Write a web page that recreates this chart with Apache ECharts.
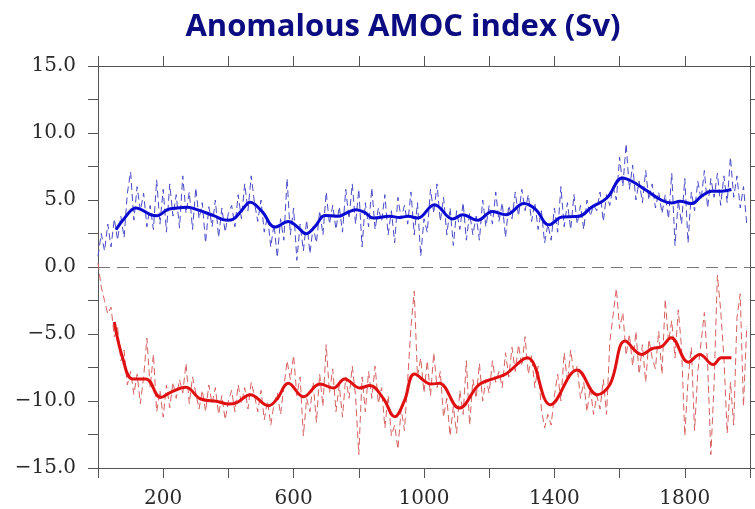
<!DOCTYPE html>
<html><head><meta charset="utf-8">
<script src="https://cdn.jsdelivr.net/npm/echarts@6/dist/echarts.min.js"></script>
<style>html,body{margin:0;padding:0;background:#fff}#c{width:755px;height:509px}</style>
</head><body><div id="c"></div>
<script>
const TITLE = 'Anomalous AMOC index (Sv)';
const X_LABELS = [200, 600, 1000, 1400, 1800];
const Y_LABELS = [-15, -10, -5, 0, 5, 10, 15];
const NOISE_START = 0, NOISE_STEP = 10;

const blueNoisy = [0.8,2.5,1.2,3.2,1.5,3.6,2.0,3.8,2.2,5.5,7.1,3.5,6.0,4.2,5.5,3.0,4.6,2.8,6.5,3.2,
5.8,2.6,6.2,3.8,5.4,2.9,6.8,4.0,5.6,2.8,5.9,3.6,4.8,1.8,4.5,3.0,5.0,2.2,4.4,2.6,
4.0,4.6,3.0,5.4,3.6,6.2,4.2,6.8,4.8,3.4,5.0,2.6,3.8,1.5,3.2,0.7,3.6,2.0,6.6,2.4,
4.4,0.5,3.2,1.2,3.5,1.0,3.0,1.8,4.2,2.4,5.6,3.2,4.6,2.8,4.5,2.6,5.8,3.6,6.2,3.2,
5.8,1.5,4.8,3.0,5.9,2.8,4.4,3.4,5.4,2.4,4.2,1.8,5.2,3.6,4.6,3.2,5.6,2.4,4.8,0.8,
3.6,2.6,5.8,4.0,6.2,3.4,5.2,2.4,4.4,1.6,4.2,2.8,4.8,2.0,4.0,2.4,3.8,2.0,5.0,3.0,
4.6,3.2,5.6,3.4,4.8,2.2,4.6,3.6,5.6,3.8,5.8,4.2,5.4,3.4,4.8,2.8,4.2,1.8,3.2,2.0,
4.4,2.6,6.0,3.0,4.8,2.8,5.4,3.2,4.6,2.8,5.0,3.8,4.6,4.2,5.6,3.4,5.4,4.6,6.0,5.0,
8.2,6.0,9.2,5.8,7.6,5.0,6.4,4.8,7.2,5.0,6.2,4.4,5.6,4.0,5.4,3.6,7.0,1.6,5.0,3.2,
6.6,1.8,5.6,4.2,6.4,5.0,7.2,4.4,6.6,5.2,7.0,4.6,6.8,4.8,8.2,5.2,6.8,4.4,6.0,3.2];

const redNoisy = [0.3,-1.5,-2.5,-3.5,-3.0,-5.2,-4.5,-7.0,-6.2,-8.8,-7.8,-9.5,-8.0,-10.2,-8.2,-5.3,-9.0,-6.5,-10.8,-9.2,
-11.2,-8.8,-10.5,-8.6,-9.8,-8.4,-9.4,-7.2,-10.2,-8.2,-9.4,-10.6,-9.2,-10.8,-8.8,-10.2,-9.0,-11.0,-9.6,-11.4,
-10.0,-9.2,-10.8,-8.8,-10.2,-9.0,-10.6,-8.6,-9.6,-10.8,-9.2,-11.4,-10.0,-11.8,-10.2,-9.4,-11.0,-9.0,-7.0,-8.4,
-6.6,-9.6,-8.2,-12.6,-9.8,-10.8,-8.6,-11.6,-8.0,-10.4,-5.8,-9.4,-7.6,-10.8,-8.8,-11.2,-8.2,-9.8,-7.4,-9.6,
-14.0,-8.2,-10.8,-7.8,-9.8,-7.4,-10.2,-9.0,-12.0,-9.6,-12.6,-11.8,-13.6,-10.6,-12.2,-8.4,-4.5,-1.8,-8.2,-6.8,
-9.4,-7.0,-9.6,-6.4,-9.0,-7.8,-11.2,-9.8,-12.6,-10.4,-12.4,-9.2,-11.0,-7.0,-11.8,-8.4,-9.8,-7.2,-10.0,-8.4,
-9.4,-7.0,-8.6,-7.8,-9.0,-6.4,-8.2,-6.0,-7.8,-5.8,-7.4,-5.2,-8.0,-6.6,-9.0,-7.4,-10.6,-12.0,-11.0,-11.8,
-9.6,-8.0,-10.0,-6.4,-8.6,-6.2,-8.0,-7.4,-9.8,-8.6,-10.8,-9.0,-11.0,-9.6,-10.6,-8.4,-11.0,-5.6,-3.6,-1.6,
-4.6,-3.4,-6.6,-5.0,-7.4,-4.8,-8.0,-5.8,-8.6,-5.4,-6.8,-7.6,-4.8,-8.0,-2.4,-5.6,-4.0,-6.8,-3.2,-6.0,
-12.6,-8.4,-6.0,-12.2,-7.8,-5.6,-3.4,-7.2,-14.0,-8.6,-0.6,-3.2,-6.8,-12.4,-8.6,-11.8,-3.8,-2.0,-10.4,-4.4];

const blueSmoothYears = [55,80,116,162,182,213,243,274,304,355,396,416,440,467,503,543,584,610,638,666,696,737,762,791,818,844,895,925,951,981,1032,1088,1119,1164,1210,1251,1307,1343,1383,1424,1475,1515,1561,1609,1638,1678,1729,1760,1785,1821,1851,1882,1912,1943];
const blueSmooth = [2.78,3.6,4.4,3.9,3.83,4.28,4.4,4.45,4.28,3.83,3.48,3.58,4.2,4.83,4.15,2.98,3.4,3.03,2.48,3.03,3.85,3.78,4.03,4.28,4.08,3.65,3.78,3.7,3.78,3.65,4.65,3.58,3.9,3.48,4.15,3.9,4.73,4.28,3.15,3.73,3.78,4.48,5.15,6.65,6.4,5.78,4.98,4.78,4.9,4.73,5.28,5.65,5.65,5.78];

const redSmoothYears = [50,75,106,147,192,223,269,315,366,401,427,467,523,549,584,630,681,722,757,803,834,875,910,940,971,1022,1047,1108,1169,1220,1251,1317,1388,1470,1531,1571,1617,1668,1699,1729,1758,1811,1846,1887,1912,1943];
const redSmooth = [-4.1,-6.73,-8.35,-8.35,-9.73,-9.35,-8.98,-9.85,-10.03,-10.23,-10.1,-9.53,-10.35,-9.85,-8.68,-9.68,-8.73,-9.03,-8.35,-9.03,-8.85,-9.8,-11.18,-9.98,-7.98,-8.73,-8.68,-10.53,-8.78,-8.28,-7.98,-6.78,-10.28,-7.68,-9.53,-8.73,-5.53,-6.53,-6.1,-5.93,-5.28,-7.1,-6.53,-7.28,-6.78,-6.78];

const noisyPairs = arr => arr.map((v, i) => [NOISE_START + i * NOISE_STEP, v]);
const pairs = (xs, ys) => xs.map((x, i) => [x, ys[i]]);

const fmtY = v => (v < 0 ? '\u2212' : '') + Math.abs(v).toFixed(1);
const axisColor = '#555';
const labelFont = { fontFamily: 'DejaVu Serif', fontSize: 20, color: '#2a2a2a' };
const tick = { show: true, inside: false, length: 10, lineStyle: { color: axisColor } };

const chart = echarts.init(document.getElementById('c'), null, { renderer: 'canvas' });
chart.setOption({
  animation: false,
  backgroundColor: '#fff',
  graphic: [{
    type: 'text', x: 403, y: 27,
    style: { text: TITLE, font: 'bold 31px "Open Sans"', fill: '#0c0c82', textAlign: 'center', textVerticalAlign: 'middle' }
  }],
  grid: { left: 98, right: 5, top: 66, bottom: 41 },
  xAxis: [{
    type: 'value', min: 0, max: 2000, interval: 200, position: 'bottom',
    axisLine: { onZero: false, lineStyle: { color: axisColor, width: 1 } },
    axisTick: tick,
    splitLine: { show: false },
    axisLabel: Object.assign({ margin: 21, formatter: v => X_LABELS.includes(v) ? String(v) : '' }, labelFont)
  }, {
    type: 'value', min: 0, max: 2000, interval: 200, position: 'top',
    axisLine: { onZero: false, lineStyle: { color: axisColor, width: 1 } },
    axisTick: tick,
    splitLine: { show: false }, axisLabel: { show: false }
  }],
  yAxis: [{
    type: 'value', min: -15, max: 15, interval: 2.5, position: 'left',
    axisLine: { show: true, onZero: false, lineStyle: { color: axisColor, width: 1 } },
    axisTick: tick,
    splitLine: { show: false },
    axisLabel: Object.assign({ margin: 22, formatter: v => Y_LABELS.includes(v) ? fmtY(v) : '' }, labelFont)
  }, {
    type: 'value', min: -15, max: 15, interval: 2.5, position: 'right',
    axisLine: { show: true, onZero: false, lineStyle: { color: axisColor, width: 1 } },
    axisTick: tick,
    splitLine: { show: false }, axisLabel: { show: false }
  }],
  series: [{
    type: 'line', data: noisyPairs(blueNoisy), showSymbol: false, symbol: 'none',
    lineStyle: { color: '#4a4ac8', width: 1, type: [7, 4] },
    markLine: {
      silent: true, symbol: 'none', label: { show: false },
      lineStyle: { color: '#777', width: 1, type: [12, 7] },
      data: [{ yAxis: 0 }]
    }
  }, {
    type: 'line', data: noisyPairs(redNoisy), showSymbol: false, symbol: 'none',
    lineStyle: { color: '#d86060', width: 1, type: [7, 4] }
  }, {
    type: 'line', data: pairs(blueSmoothYears, blueSmooth), showSymbol: false, symbol: 'none', smooth: 0.4,
    lineStyle: { color: '#0a0ad0', width: 3 }
  }, {
    type: 'line', data: pairs(redSmoothYears, redSmooth), showSymbol: false, symbol: 'none', smooth: 0.4,
    lineStyle: { color: '#e01010', width: 3 }
  }]
});
</script></body></html>
